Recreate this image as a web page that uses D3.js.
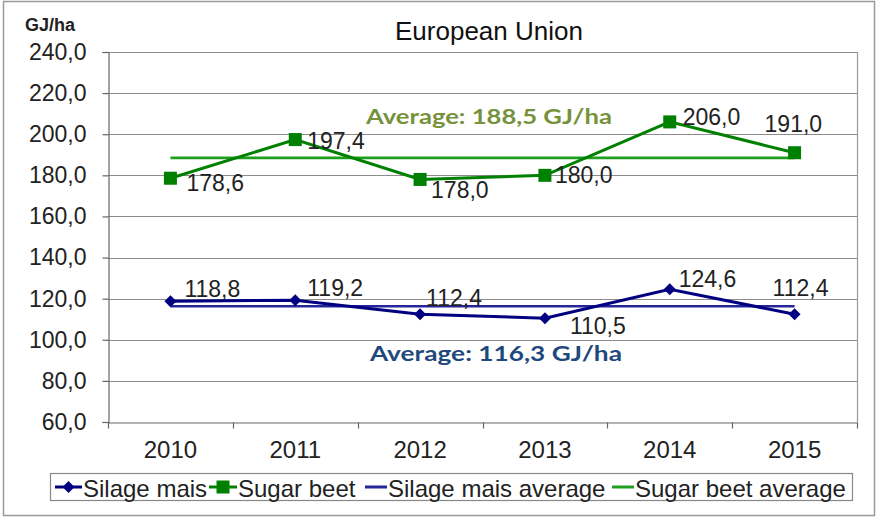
<!DOCTYPE html>
<html>
<head>
<meta charset="utf-8">
<script src="https://cdn.jsdelivr.net/npm/d3@7/dist/d3.min.js"></script>
<style>
  html, body { margin: 0; padding: 0; background: #fff; }
  svg { display: block; font-family: "Liberation Sans", Arial, sans-serif; }
</style>
</head>
<body>
<svg id="chart" width="878" height="519"></svg>
<script>
// Energy yield per hectare, European Union
const years = ["2010", "2011", "2012", "2013", "2014", "2015"];
const silageMais = [118.8, 119.2, 112.4, 110.5, 124.6, 112.4];
const sugarBeet = [178.6, 197.4, 178.0, 180.0, 206.0, 191.0];
const yTicks = [60, 80, 100, 120, 140, 160, 180, 200, 220, 240];
const seriesNames = ["Silage mais", "Sugar beet", "Silage mais average", "Sugar beet average"];

// label placement around each point: [dx to text start, dy to text middle]
const silageLabelPos = [[14, -12], [12, -12], [6, -16], [25, 8], [9, -10], [-22, -26]];
const beetLabelPos = [[16, 5], [12, 1], [11, 11], [10, 0], [13, -5], [-30, -29]];

const locale = d3.formatLocale({ decimal: ",", thousands: ".", grouping: [3], currency: ["", ""] });
const f1 = locale.format(".1f");

const svg = d3.select("#chart");

const plot = { left: 108, right: 857, top: 52, bottom: 422 };
const x = d3.scaleBand().domain(years).range([plot.left, plot.right]).padding(0);
const y = d3.scaleLinear().domain([60, 240]).range([plot.bottom, plot.top]);
const cx = d => x(d) + x.bandwidth() / 2;

const silageMean = d3.mean(silageMais);
const beetMean = d3.mean(sugarBeet);

const C = {
  silage: "#000080",
  beet: "#008000",
  silageAvg: "#26269a",
  beetAvg: "#1ea01e",
  grid: "#8c8c8c",
  text: "#222"
};

// outer frame
svg.append("rect").attr("x", 3.5).attr("y", 1.5).attr("width", 871).attr("height", 514)
  .attr("fill", "#fff").attr("stroke", "#9a9a9a").attr("stroke-width", 1.5);

// title
svg.append("text").attr("x", 489).attr("y", 40).attr("text-anchor", "middle")
  .attr("font-size", 26).attr("fill", "#111").text("European Union");

// unit
svg.append("text").attr("x", 25).attr("y", 31).attr("font-size", 18)
  .attr("font-weight", "bold").attr("fill", "#222").text("GJ/ha");

// gridlines
svg.append("g").selectAll("line").data(yTicks.filter(t => t > 60)).join("line")
  .attr("x1", plot.left).attr("x2", plot.right)
  .attr("y1", d => Math.round(y(d)) + 0.5).attr("y2", d => Math.round(y(d)) + 0.5)
  .attr("stroke", C.grid).attr("stroke-width", 1.2);

// plot right border
svg.append("line").attr("x1", plot.right + 0.5).attr("x2", plot.right + 0.5)
  .attr("y1", plot.top).attr("y2", plot.bottom).attr("stroke", "#9a9a9a").attr("stroke-width", 1.2);

// y axis
const yAxis = d3.axisLeft(y).tickValues(yTicks).tickFormat(f1).tickSize(6).tickPadding(16);
const gy = svg.append("g").attr("transform", `translate(${plot.left + 0.5},0)`).call(yAxis);
gy.select(".domain").attr("stroke", "#666").attr("stroke-width", 1.2);
gy.selectAll(".tick line").attr("stroke", "#666").attr("stroke-width", 1.2);
gy.selectAll(".tick text").attr("font-size", 23).attr("fill", C.text)
  .attr("font-family", "'Liberation Sans', Arial, sans-serif");

// x axis
const xAxis = d3.axisBottom(x).tickSize(0).tickPadding(18);
const gx = svg.append("g").attr("transform", `translate(0,${Math.round(plot.bottom) + 0.5})`).call(xAxis);
gx.select(".domain").attr("stroke", "#666").attr("stroke-width", 1.2);
gx.selectAll(".tick text").attr("font-size", 24).attr("fill", C.text)
  .attr("font-family", "'Liberation Sans', Arial, sans-serif");
// category boundary ticks
const bounds = years.map(d => x(d)).concat([x(years[years.length - 1]) + x.bandwidth()]);
gx.selectAll(".bound").data(bounds).join("line").attr("class", "bound")
  .attr("x1", d => Math.round(d) + 0.5).attr("x2", d => Math.round(d) + 0.5)
  .attr("y1", 0).attr("y2", 6).attr("stroke", "#666").attr("stroke-width", 1.2);

// average lines
const avgLine = (mean, color) => svg.append("line")
  .attr("x1", cx(years[0])).attr("x2", cx(years[years.length - 1]))
  .attr("y1", y(mean)).attr("y2", y(mean))
  .attr("stroke", color).attr("stroke-width", 2.6);
avgLine(beetMean, C.beetAvg);
avgLine(silageMean, C.silageAvg);

// series lines
const line = d3.line().x((d, i) => cx(years[i])).y(d => y(d));
svg.append("path").datum(sugarBeet).attr("d", line)
  .attr("fill", "none").attr("stroke", C.beet).attr("stroke-width", 3);
svg.append("path").datum(silageMais).attr("d", line)
  .attr("fill", "none").attr("stroke", C.silage).attr("stroke-width", 3);

// markers
const diamond = s => `M0,${-s}L${s},0L0,${s}L${-s},0Z`;
svg.append("g").selectAll("path").data(silageMais).join("path")
  .attr("transform", (d, i) => `translate(${cx(years[i])},${y(d)})`)
  .attr("d", diamond(6)).attr("fill", C.silage);
svg.append("g").selectAll("rect").data(sugarBeet).join("rect")
  .attr("x", (d, i) => cx(years[i]) - 6.5).attr("y", d => y(d) - 6.5)
  .attr("width", 13).attr("height", 13).attr("fill", C.beet);

// data labels
const labels = (vals, pos) => svg.append("g").selectAll("text").data(vals).join("text")
  .attr("x", (d, i) => cx(years[i]) + pos[i][0])
  .attr("y", (d, i) => y(d) + pos[i][1])
  .attr("dominant-baseline", "central")
  .attr("font-size", 23).attr("fill", C.text).text(d => f1(d));
labels(sugarBeet, beetLabelPos);
labels(silageMais, silageLabelPos);

// average annotations
const avgFmt = locale.format(".1f");
svg.append("text").attr("x", 489).attr("y", 124).attr("text-anchor", "middle")
  .attr("font-family", "Lato, 'Open Sans', sans-serif").attr("font-weight", "bold")
  .attr("font-size", 21).attr("fill", "#76923c")
  .attr("textLength", 246).attr("lengthAdjust", "spacingAndGlyphs")
  .text(`Average: ${avgFmt(beetMean)} GJ/ha`);
svg.append("text").attr("x", 496).attr("y", 361).attr("text-anchor", "middle")
  .attr("font-family", "Lato, 'Open Sans', sans-serif").attr("font-weight", "bold")
  .attr("font-size", 21).attr("fill", "#1f497d")
  .attr("textLength", 252).attr("lengthAdjust", "spacingAndGlyphs")
  .text(`Average: ${avgFmt(silageMean)} GJ/ha`);

// legend
const lg = svg.append("g");
lg.append("rect").attr("x", 50.5).attr("y", 473.5).attr("width", 802).attr("height", 27)
  .attr("fill", "#fff").attr("stroke", "#888").attr("stroke-width", 1.2);
const ly = 487;
const items = [
  { color: C.silage, x0: 55, x1: 82, tx: 83, marker: "diamond" },
  { color: C.beet, x0: 209, x1: 237, tx: 238, marker: "square" },
  { color: C.silageAvg, x0: 365, x1: 387, tx: 388, marker: null },
  { color: C.beetAvg, x0: 612, x1: 634, tx: 635, marker: null }
];
items.forEach((it, i) => {
  lg.append("line").attr("x1", it.x0).attr("x2", it.x1).attr("y1", ly).attr("y2", ly)
    .attr("stroke", it.color).attr("stroke-width", 3);
  const mx = (it.x0 + it.x1) / 2;
  if (it.marker === "diamond") {
    lg.append("path").attr("transform", `translate(${mx},${ly})`).attr("d", diamond(6)).attr("fill", it.color);
  } else if (it.marker === "square") {
    lg.append("rect").attr("x", mx - 6.5).attr("y", ly - 6.5).attr("width", 13).attr("height", 13).attr("fill", it.color);
  }
  lg.append("text").attr("x", it.tx).attr("y", ly + 1).attr("dominant-baseline", "central")
    .attr("font-size", 24).attr("fill", C.text).text(seriesNames[i]);
});
</script>
</body>
</html>
